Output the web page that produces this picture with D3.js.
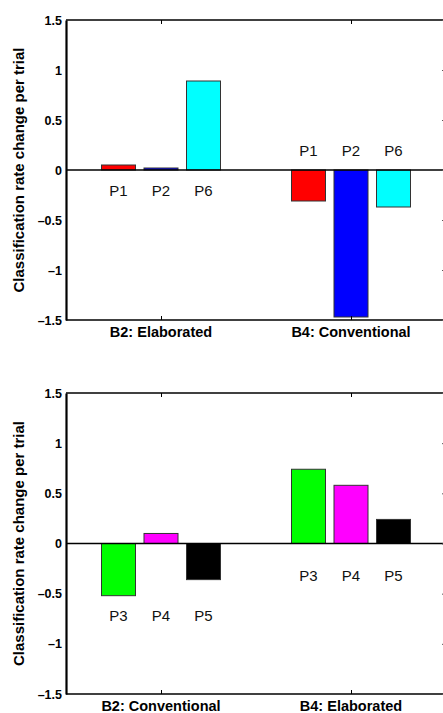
<!DOCTYPE html>
<html>
<head>
<meta charset="utf-8">
<script src="https://cdn.jsdelivr.net/npm/d3@7"></script>
<style>
  body { margin: 0; background: #fff; }
  text { font-family: "Liberation Sans", Arial, sans-serif; }
</style>
</head>
<body>
<svg id="chart" width="443" height="713"></svg>
<script>
// data
const yTicks = [1.5, 1, 0.5, 0, -0.5, -1, -1.5]
const yLabel = 'Classification rate change per trial'

const topBlocks = ['B2: Elaborated', 'B4: Conventional']
const topParticipants = ['P1', 'P2', 'P6']
const topColors = ['#ff0000', '#0000ff', '#00ffff']
const topB2 = [0.05, 0.02, 0.89]
const topB4 = [-0.31, -1.47, -0.37]
const topLabelLevel = [-0.26, 0.14]   // where the P labels sit, in data units

const bottomBlocks = ['B2: Conventional', 'B4: Elaborated']
const bottomParticipants = ['P3', 'P4', 'P5']
const bottomColors = ['#00ff00', '#ff00ff', '#000000']
const bottomB2 = [-0.52, 0.10, -0.36]
const bottomB4 = [0.74, 0.58, 0.24]
const bottomLabelLevel = [-0.77, -0.37]

const svg = d3.select('#chart')
svg.append('rect').attr('width', 443).attr('height', 713).attr('fill', '#fff')

const fmt = v => (v < 0 ? '\u2013' : '') + d3.format('')(Math.abs(v))

function panel(top, bottom, blocks, parts, colors, values, labelLevel) {
  const left = 66, right = 446

  const x = d3.scalePoint().domain(blocks).range([left, right]).padding(0.5)
  const xs = d3.scaleBand().domain(parts).range([-59.5, 59.5]).paddingInner(0.2)
  const y = d3.scaleLinear().domain([-1.5, 1.5]).range([bottom, top])

  const g = svg.append('g')

  // bars
  blocks.forEach((b, bi) => {
    parts.forEach((p, pi) => {
      const v = values[bi][pi]
      g.append('rect')
        .attr('x', x(b) + xs(p))
        .attr('y', y(Math.max(0, v)))
        .attr('width', xs.bandwidth())
        .attr('height', Math.abs(y(v) - y(0)))
        .attr('fill', colors[pi])
        .attr('stroke', '#333')
        .attr('stroke-width', 1)

      g.append('text')
        .attr('x', x(b) + xs(p) + xs.bandwidth() / 2)
        .attr('y', y(labelLevel[bi]))
        .attr('text-anchor', 'middle')
        .attr('font-size', 15)
        .attr('fill', '#111')
        .text(p)
    })
  })

  // zero line
  g.append('line')
    .attr('x1', left).attr('x2', right)
    .attr('y1', y(0)).attr('y2', y(0))
    .attr('stroke', '#000').attr('stroke-width', 1.3)

  // frame
  g.append('line').attr('x1', left).attr('x2', right).attr('y1', top).attr('y2', top)
    .attr('stroke', '#000').attr('stroke-width', 1.3)
  g.append('line').attr('x1', left).attr('x2', right).attr('y1', bottom).attr('y2', bottom)
    .attr('stroke', '#000').attr('stroke-width', 1.3)
  g.append('line').attr('x1', right).attr('x2', right).attr('y1', top).attr('y2', bottom)
    .attr('stroke', '#000').attr('stroke-width', 1.3)

  // right ticks
  g.append('g')
    .attr('transform', `translate(${right},0)`)
    .call(d3.axisLeft(y).tickValues(yTicks).tickSize(4).tickFormat(''))
    .call(a => a.select('.domain').remove())
    .selectAll('line').attr('stroke', '#555')

  // x ticks, top and bottom
  g.append('g')
    .attr('transform', `translate(0,${top})`)
    .call(d3.axisBottom(x).tickSize(4).tickFormat(''))
    .call(a => a.select('.domain').remove())
  g.append('g')
    .attr('transform', `translate(0,${bottom})`)
    .call(d3.axisTop(x).tickSize(4).tickFormat(''))
    .call(a => a.select('.domain').remove())

  // category labels
  blocks.forEach(b => {
    g.append('text')
      .attr('x', x(b))
      .attr('y', bottom + 17)
      .attr('text-anchor', 'middle')
      .attr('font-size', 14.5)
      .attr('font-weight', 'bold')
      .text(b)
  })

  // left axis
  const ya = g.append('g')
    .attr('transform', `translate(${left},0)`)
    .call(d3.axisLeft(y).tickValues(yTicks).tickSize(0).tickPadding(4).tickFormat(fmt))
  ya.select('.domain').attr('stroke-width', 2.2)
  ya.selectAll('text')
    .attr('font-family', '"Liberation Sans", Arial, sans-serif')
    .attr('font-size', 12.5)
    .attr('font-weight', 'bold')
    .attr('fill', '#000')

  // y label
  g.append('text')
    .attr('transform', `translate(24,${(top + bottom) / 2}) rotate(-90)`)
    .attr('text-anchor', 'middle')
    .attr('font-size', 15)
    .attr('font-weight', 'bold')
    .text(yLabel)
}

panel(20, 320, topBlocks, topParticipants, topColors, [topB2, topB4], topLabelLevel)
panel(393, 694, bottomBlocks, bottomParticipants, bottomColors, [bottomB2, bottomB4], bottomLabelLevel)
</script>
</body>
</html>
